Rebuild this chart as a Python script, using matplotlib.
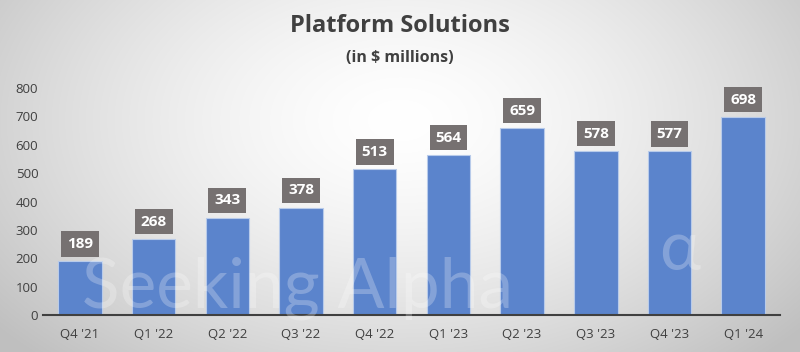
import matplotlib
matplotlib.use("Agg")
import matplotlib.pyplot as plt
import numpy as np

categories = ["Q4 '21", "Q1 '22", "Q2 '22", "Q3 '22", "Q4 '22", "Q1 '23", "Q2 '23", "Q3 '23", "Q4 '23", "Q1 '24"]
values = [189, 268, 343, 378, 513, 564, 659, 578, 577, 698]
yticks = [0, 100, 200, 300, 400, 500, 600, 700, 800]

plt.rcParams['font.family'] = ['Open Sans', 'DejaVu Sans']

fig = plt.figure(figsize=(8, 3.52), dpi=100)

# radial gradient background
bg = fig.add_axes([0, 0, 1, 1], zorder=-10)
yy, xx = np.mgrid[0:352, 0:800]
r = np.sqrt(((xx - 400) / 520.0) ** 2 + ((yy - 120) / 330.0) ** 2)
shade = 1.0 - 0.25 * np.clip(r, 0, 1) ** 1.5
img = np.dstack([shade, shade, shade])
bg.imshow(img, aspect='auto', extent=[0, 1, 0, 1], origin='upper')
bg.axis('off')

ax = fig.add_axes([0.054, 0.105, 0.921, 0.645])
ax.patch.set_alpha(0)
x = np.arange(len(categories))
ax.bar(x, values, width=0.59, color='#5B84CC', edgecolor='#B8CBEA', linewidth=0.8, zorder=2)
for xi, v in zip(x, values):
    ax.annotate(str(v), (xi, v), xytext=(0, 12.5), textcoords='offset points',
                ha='center', va='center', color='white', fontsize=11, fontweight='bold',
                bbox=dict(boxstyle='square,pad=0.38', fc='#767171', ec='none'), zorder=4)

ax.set_ylim(0, 800)
ax.set_xlim(-0.5, len(categories) - 0.5)
ax.set_yticks(yticks)
ax.set_xticks(x)
ax.set_xticklabels(categories)
ax.tick_params(axis='both', length=0, labelsize=9.5, colors='#404040')
ax.tick_params(axis='x', pad=9)
for s in ['top', 'right', 'left']:
    ax.spines[s].set_visible(False)
ax.spines['bottom'].set_color('#404040')
ax.spines['bottom'].set_linewidth(1.5)

fig.text(0.5, 0.925, "Platform Solutions", ha='center', va='center', fontsize=17, fontweight='bold', color='#404040')
fig.text(0.5, 0.835, "(in $ millions)", ha='center', va='center', fontsize=11.5, fontweight='bold', color='#404040')

fig.text(82 / 800, 1 - 307 / 352, "Seeking Alpha", ha='left', va='baseline', fontsize=50,
         family=['Lato', 'DejaVu Sans'], fontweight='normal', color='white', alpha=0.25, zorder=5)
fig.text(680 / 800, 1 - 250 / 352, "\u03b1", ha='center', va='center', fontsize=50,
         family=['Lato', 'DejaVu Sans'], fontweight='normal', color='white', alpha=0.25, zorder=5)

fig.savefig("out.png", dpi=100)
